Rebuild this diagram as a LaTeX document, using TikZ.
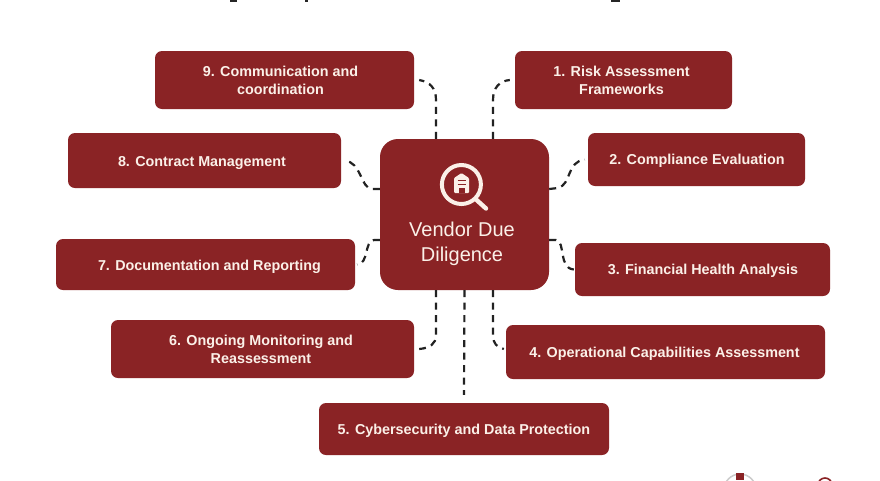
\documentclass[tikz,border=0pt]{standalone}
\usepackage{fontspec}
\setmainfont{Liberation Sans}
\usetikzlibrary{calc}
\definecolor{boxred}{HTML}{8A2325}
\definecolor{cream}{HTML}{FBF0E8}
\definecolor{dashink}{HTML}{222222}
\tikzset{
  x=1pt,y=-1pt,
  itembox/.style={fill=boxred,rounded corners=7pt,inner sep=0pt},
  itemtext/.style={text=cream,font=\bfseries\fontsize{14.35}{18.2}\selectfont,align=center,inner sep=0pt},
  hub/.style={fill=boxred,rounded corners=18pt,inner sep=0pt},
  link/.style={draw=dashink,line width=2.2pt,dash pattern=on 7pt off 5.5pt},
}
% name, left, right, top, bottom, text offset, text
\newcommand{\itemnode}[7]{%
  \node[itembox,minimum width=#3pt-#2pt,minimum height=#5pt-#4pt] (#1) at ({(#2+#3)/2},{(#4+#5)/2}) {};
  \node[itemtext] (#1t) at ($(#1.center)+(#6)$) {#7};}
\begin{document}
\begin{tikzpicture}
\useasboundingbox (0,0) rectangle (880,480);
\fill[white] (0,0) rectangle (880,480);
% hub
\node[hub,minimum width=169pt,minimum height=151pt] (hub) at (464.5,214.5) {};
\node[text=cream,font=\fontsize{20}{24.5}\selectfont,align=center,inner sep=0pt] (hubtext) at (462,244) {Vendor Due\\Diligence};
% icon
\draw[cream,line width=4pt] (461.4,184.5) circle (19.5);
\draw[cream,line width=4.4pt,line cap=round] (475.5,199) -- (486,208.5);
\fill[cream,rounded corners=1pt] (454,193) -- (454,178) -- (461.5,173) -- (469,178) -- (469,193) -- cycle;
\draw[boxred,line width=1.5pt] (457.5,180.5) -- (465.5,180.5) (457.5,184.5) -- (465.5,184.5);
\fill[boxred] (458.5,188) rectangle (464.5,193);
% items
\itemnode{n9}{155}{414}{51}{109}{-4,0.5}{9. Communication and\\coordination}
\itemnode{n1}{515}{732}{51}{109}{-2,0.5}{1. Risk Assessment\\Frameworks}
\itemnode{n8}{68}{341}{133}{188}{-2.5,2.5}{8. Contract Management}
\itemnode{n2}{588}{805}{133}{186}{0.5,1.5}{2. Compliance Evaluation}
\itemnode{n7}{56}{355}{239}{290}{4,2.5}{7. Documentation and Reporting}
\itemnode{n3}{575}{830}{243}{296}{0.5,1.5}{3. Financial Health Analysis}
\itemnode{n6}{111}{414}{320}{378}{-1.5,0.5}{6. Ongoing Monitoring and\\Reassessment}
\itemnode{n4}{506}{825}{325}{379}{-1,1.5}{4. Operational Capabilities Assessment}
\itemnode{n5}{319}{609}{403}{455}{0,1.5}{5. Cybersecurity and Data Protection}
% connectors
\draw[link] ($(hub.north)+(-28.5,0)$) -- (436,100) .. controls (436,88) and (430,82) .. ($(n9.east)+(5,0)$);
\draw[link] ($(hub.north)+(28.5,0)$) -- (493,100) .. controls (493,88) and (499,81) .. ($(n1.west)+(-5,0)$);
\draw[link] (hub.west |- 0,189) -- (372,189) .. controls (360,188) and (362,162) .. ($(n8.east)+(3,0)$);
\draw[link] (hub.east |- 0,189) -- (558,188) .. controls (572,184) and (566,162) .. ($(n2.west)+(-3,0)$);
\draw[link] (hub.west |- 0,240) -- (374,240) .. controls (364,241) and (369,264) .. ($(n7.east)+(2,0)$);
\draw[link] (hub.east |- 0,240) -- (556,240) .. controls (566,242) and (558,268) .. ($(n3.west)+(-1,0)$);
\draw[link] ($(hub.south)+(-28.5,0)$) -- (436,335) .. controls (436,344) and (430,348) .. ($(n6.east)+(5,0)$);
\draw[link] ($(hub.south)+(28.5,0)$) -- (493,335) .. controls (493,344) and (497,347) .. ($(n4.west)+(-2,-3)$);
\draw[link] (hub.south) -- ($(n5.north)+(0,-8)$);
% clipped marks at the picture edges
\begin{scope}
\clip (0,0) rectangle (880,480);
\fill[black!85] (230,0) rectangle (237,2.2);
\fill[black!85] (304.5,0) rectangle (307.5,2.2);
\fill[black!85] (611,0) rectangle (620,2);
\draw[gray!40,line width=1.5pt] (740,490) circle (16);
\fill[boxred] (736,473) rectangle (744,480);
\draw[boxred,line width=1.6pt] (825,485) circle (7);
\end{scope}
\end{tikzpicture}
\end{document}
